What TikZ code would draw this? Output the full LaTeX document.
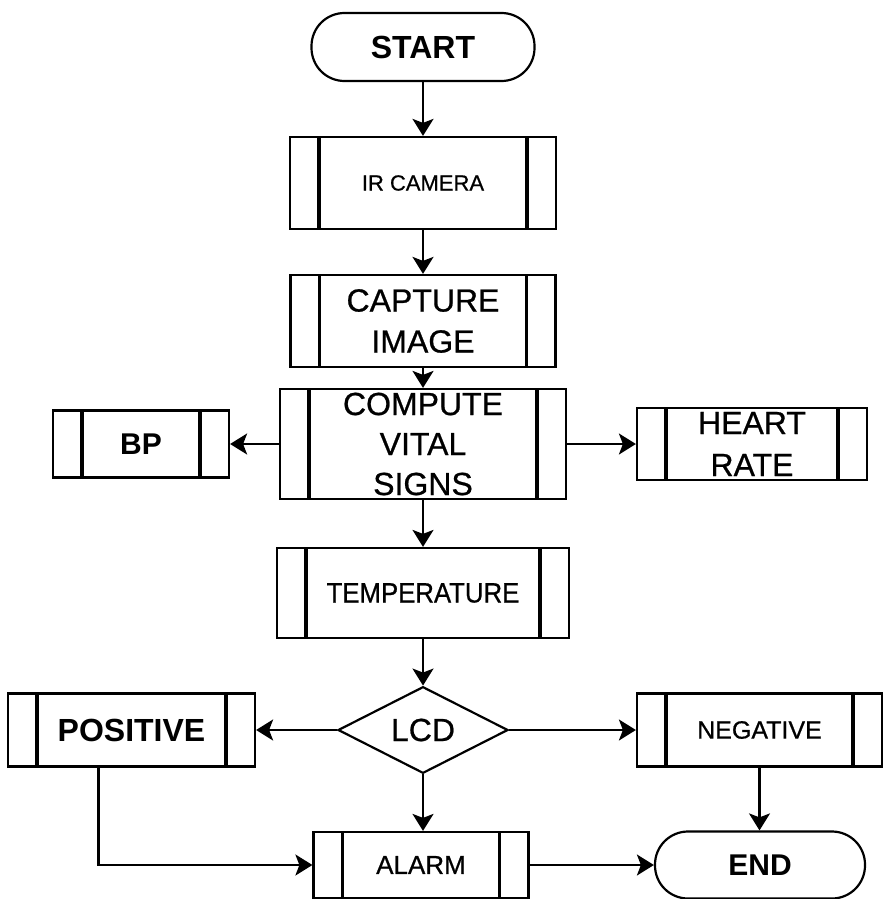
\documentclass[tikz,border=0pt]{standalone}
\usepackage{fontspec}
\setmainfont{Liberation Sans}
\newfontfamily\heavyfont[FakeBold=0.7]{Liberation Sans}
\usetikzlibrary{shapes.geometric,arrows.meta}
\begin{document}
\begin{tikzpicture}[x=1pt,y=-1pt,
  base/.style={draw, line width=2.2pt, inner sep=0pt, align=center},
  proc/.style={base, path picture={
      \draw[line width=3.4pt]
        ([xshift=29pt]path picture bounding box.north west) --
        ([xshift=29pt]path picture bounding box.south west);
      \draw[line width=3.4pt]
        ([xshift=-29pt]path picture bounding box.north east) --
        ([xshift=-29pt]path picture bounding box.south east);}},
  term/.style={base, rounded corners=33pt},
  decide/.style={base, diamond},
  arr/.style={line width=2.2pt, -{Stealth[length=17pt,width=21pt,inset=4pt]}}
]
\useasboundingbox (0,0) rectangle (884,899);

% main column
\node[term, minimum width=223pt, minimum height=68pt,
      font=\bfseries\fontsize{32}{38}\selectfont] (start) at (423,47) {START};
\node[proc, minimum width=266pt, minimum height=92pt,
      font=\heavyfont\fontsize{22}{26}\selectfont] (cam) at (423,183) {IR CAMERA};
\node[proc, minimum width=265pt, minimum height=92pt,
      font=\heavyfont\fontsize{32}{41}\selectfont] (cap) at (423,321) {CAPTURE\\IMAGE};
\node[proc, minimum width=286pt, minimum height=110pt,
      font=\heavyfont\fontsize{32}{40}\selectfont] (comp) at (423,444) {COMPUTE\\VITAL\\SIGNS};
\node[proc, minimum width=292pt, minimum height=90pt,
      font=\heavyfont\fontsize{28}{30}\selectfont] (temp) at (423,593) {\scalebox{0.92}[1]{TEMPERATURE}};
\node[decide, minimum width=170pt, minimum height=66pt,
      font=\heavyfont\fontsize{32}{36}\selectfont] (lcd) at (423,730) {LCD};
\node[proc, minimum width=215pt, minimum height=66pt,
      font=\heavyfont\fontsize{26}{30}\selectfont] (alarm) at (421,865) {ALARM};

% side branches
\node[proc, minimum width=176pt, minimum height=67pt,
      font=\bfseries\fontsize{30}{36}\selectfont] (bp) at (141,444) {BP};
\node[proc, minimum width=230pt, minimum height=72pt,
      font=\heavyfont\fontsize{32}{42}\selectfont] (hr) at (752,444) {HEART\\RATE};
\node[proc, minimum width=247pt, minimum height=73pt,
      font=\bfseries\fontsize{32}{36}\selectfont] (pos) at (131.5,730) {POSITIVE};
\node[proc, minimum width=245pt, minimum height=73pt,
      font=\heavyfont\fontsize{25}{30}\selectfont] (neg) at (759.5,730) {NEGATIVE};
\node[term, minimum width=210pt, minimum height=67pt,
      font=\bfseries\fontsize{30}{36}\selectfont] (end) at (760,865) {END};

% connectors
\draw[arr] (start) -- (cam);
\draw[arr] (cam) -- (cap);
\draw[arr] (cap) -- (comp);
\draw[arr] (comp) -- (bp);
\draw[arr] (comp) -- (hr);
\draw[arr] (comp) -- (temp);
\draw[arr] (temp) -- (lcd);
\draw[arr] (lcd) -- (pos);
\draw[arr] (lcd) -- (neg);
\draw[arr] (lcd.south) -- (lcd.south |- alarm.north);
\draw[arr] ([xshift=-33pt]pos.south) |- (alarm.west);
\draw[arr] (alarm) -- (end);
\draw[arr] (neg.south) -- (neg.south |- end.north);
\end{tikzpicture}
\end{document}
